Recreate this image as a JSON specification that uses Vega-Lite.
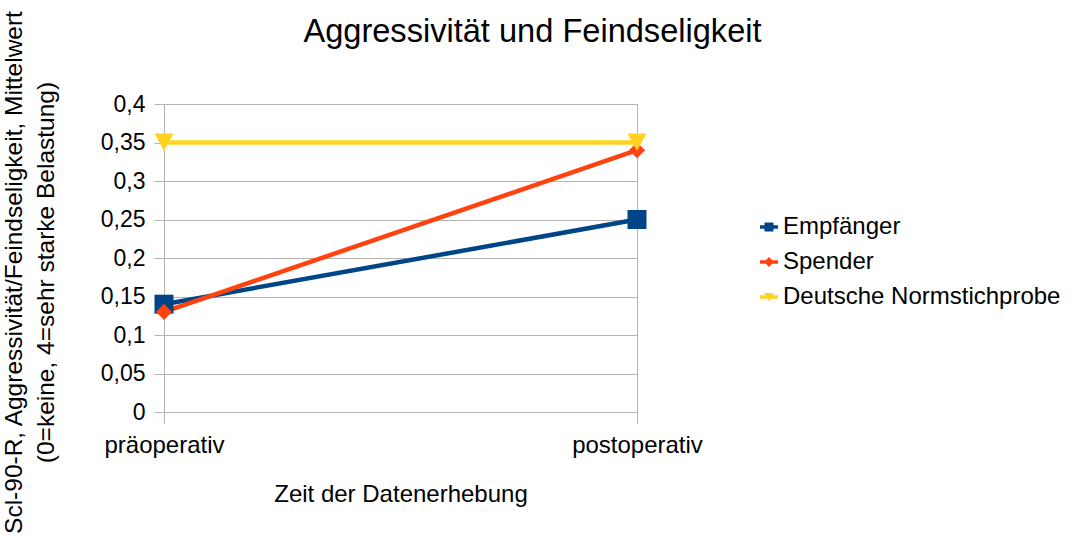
{
  "$schema": "https://vega.github.io/schema/vega-lite/v6.json",
  "width": 473,
  "height": 308,
  "autosize": {"type": "none"},
  "padding": {"left": 164, "top": 104, "right": 442, "bottom": 125},
  "background": "white",
  "config": {
    "font": "Liberation Sans",
    "view": {"stroke": null},
    "axis": {"labelFont": "Liberation Sans", "titleFont": "Liberation Sans", "labelColor": "black", "titleColor": "black", "titleFontWeight": "normal", "domainColor": "#b3b3b3", "tickColor": "#b3b3b3", "gridColor": "#b3b3b3", "gridWidth": 1, "domainWidth": 1, "tickWidth": 1},
    "legend": {"labelFont": "Liberation Sans", "labelColor": "black"}
  },
  "title": {
    "text": "Aggressivität und Feindseligkeit",
    "fontSize": 32.6,
    "font": "Liberation Sans",
    "fontWeight": "normal",
    "color": "black",
    "anchor": "middle",
    "frame": "group",
    "baseline": "alphabetic",
    "offset": 0,
    "dy": 65,
    "dx": 132
  },
  "data": {
    "values": [
      {"serie": "Empfänger", "zeit": "präoperativ", "wert": 0.14},
      {"serie": "Empfänger", "zeit": "postoperativ", "wert": 0.25},
      {"serie": "Spender", "zeit": "präoperativ", "wert": 0.13},
      {"serie": "Spender", "zeit": "postoperativ", "wert": 0.34},
      {"serie": "Deutsche Normstichprobe", "zeit": "präoperativ", "wert": 0.35},
      {"serie": "Deutsche Normstichprobe", "zeit": "postoperativ", "wert": 0.35}
    ]
  },
  "encoding": {
    "x": {
      "field": "zeit",
      "type": "nominal",
      "sort": ["präoperativ", "postoperativ"],
      "scale": {"type": "point", "padding": 0},
      "axis": {
        "title": "Zeit der Datenerhebung",
        "labelAngle": 0,
        "labelFontSize": 24,
        "titleFontSize": 24,
        "tickSize": 11,
        "labelPadding": 10,
        "grid": true,
        "domain": true,
        "titleY": 70,
        "titleBaseline": "top"
      }
    },
    "y": {
      "field": "wert",
      "type": "quantitative",
      "scale": {"domain": [0, 0.4], "nice": false},
      "axis": {
        "title": ["Scl-90-R, Aggressivität/Feindseligkeit, Mittelwert", "(0=keine, 4=sehr starke Belastung)"],
        "values": [0, 0.05, 0.1, 0.15, 0.2, 0.25, 0.3, 0.35, 0.4],
        "labelExpr": "replace(format(datum.value, '.2~f'), '.', ',')",
        "labelFontSize": 23,
        "titleFontSize": 24.5,
        "tickSize": 10,
        "labelPadding": 9,
        "grid": true,
        "titleX": -162,
        "titleY": 168,
        "titleBaseline": "top",
        "titleLineHeight": 32,
        "titleAlign": "center",
        "titleAngle": -90,
        "titleLimit": 1000
      }
    },
    "color": {
      "field": "serie",
      "type": "nominal",
      "sort": ["Empfänger", "Spender", "Deutsche Normstichprobe"],
      "scale": {"domain": ["Empfänger", "Spender", "Deutsche Normstichprobe"], "range": ["#004586", "#ff420e", "#ffd320"]},
      "legend": {
        "title": null,
        "orient": "none",
        "legendX": 593,
        "legendY": 111,
        "padding": 0,
        "labelFontSize": 24,
        "labelLimit": 500,
        "labelOffset": 2,
        "rowPadding": 11,
        "symbolSize": 324,
        "encode": {
          "symbols": {
            "update": {
              "shape": {"signal": "datum.value === 'Empfänger' ? 'M-1,-0.2H1V0.2H-1Z M-0.5,-0.5H0.5V0.5H-0.5Z' : datum.value === 'Spender' ? 'M-1,-0.2H1V0.2H-1Z M-0.55,0L0,-0.55L0.55,0L0,0.55Z' : 'M-1,-0.2H1V0.2H-1Z M-0.55,-0.45L0.55,-0.45L0,0.5Z'"},
              "fill": {"scale": "color", "field": "value"},
              "stroke": {"value": "transparent"},
              "strokeWidth": {"value": 0},
              "opacity": {"value": 1}
            }
          }
        }
      }
    }
  },
  "layer": [
    {
      "mark": {"type": "line", "strokeWidth": 4.5},
      "encoding": {
        "detail": {"field": "serie"},
        "order": {"field": "zeit"}
      }
    },
    {
      "transform": [{"filter": {"field": "serie", "equal": "Empfänger"}}],
      "mark": {"type": "point", "filled": true, "opacity": 1, "size": 361, "shape": "M-1,-1H1V1H-1Z"}
    },
    {
      "transform": [{"filter": {"field": "serie", "equal": "Spender"}}],
      "mark": {"type": "point", "filled": true, "opacity": 1, "size": 361, "shape": "M-0.85,0L0,-0.85L0.85,0L0,0.85Z"}
    },
    {
      "transform": [{"filter": {"field": "serie", "equal": "Deutsche Normstichprobe"}}],
      "mark": {"type": "point", "filled": true, "opacity": 1, "size": 361, "shape": "M-1,-0.95L1,-0.95L0,0.9Z"}
    }
  ]
}
